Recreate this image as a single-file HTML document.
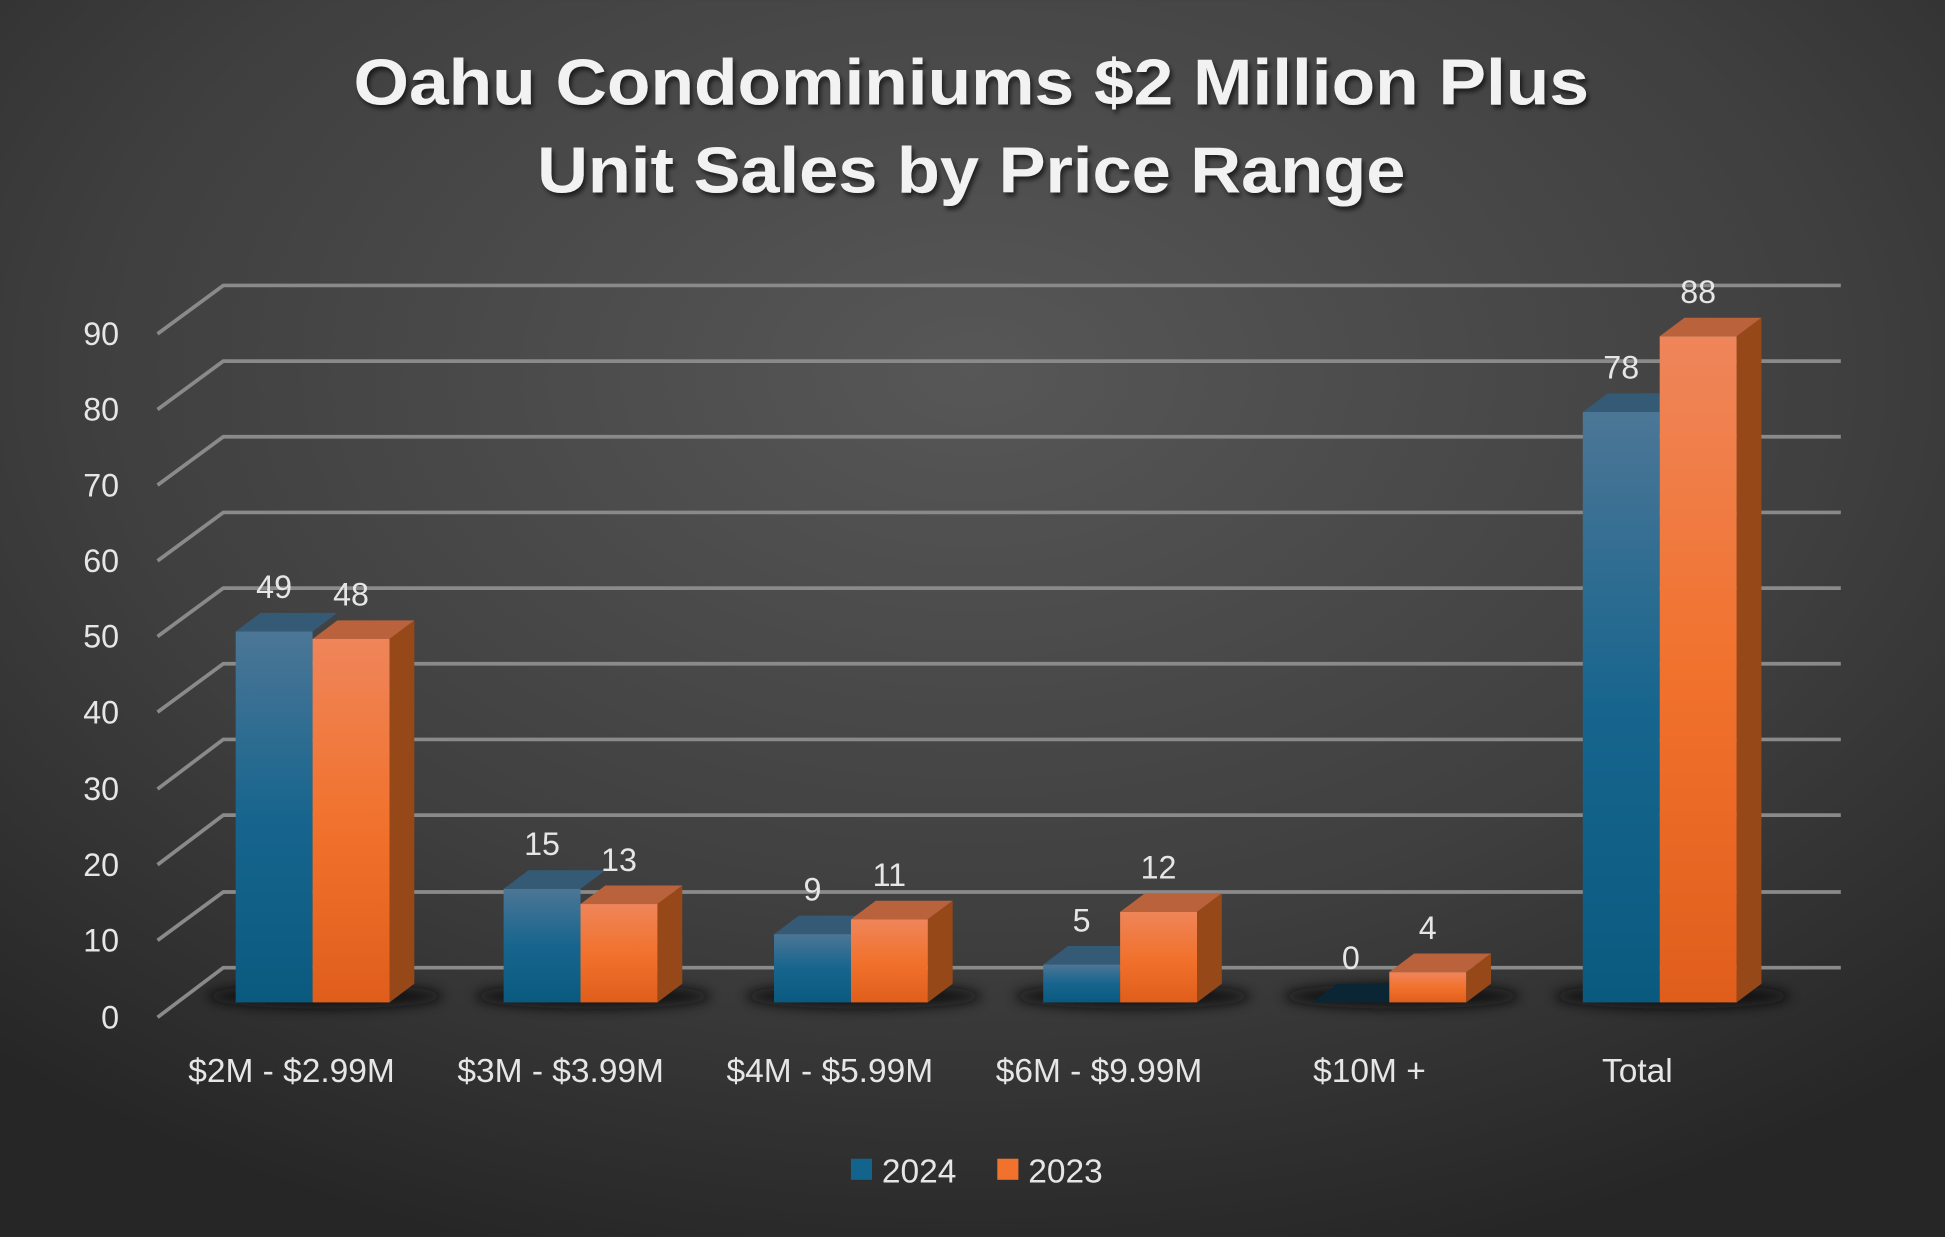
<!DOCTYPE html>
<html><head><meta charset="utf-8"><style>
html,body{margin:0;padding:0;background:#3a3a3a;}
svg{display:block;}
</style></head><body>
<svg width="1945" height="1237" viewBox="0 0 1568 997" xmlns="http://www.w3.org/2000/svg" font-family="Liberation Sans, sans-serif">
<defs>
<radialGradient id="bg" cx="0.5" cy="0.3" r="0.75">
<stop offset="0" stop-color="#575757"/><stop offset="0.6" stop-color="#3f3f3f"/><stop offset="1" stop-color="#262626"/>
</radialGradient>
<linearGradient id="bl" x1="0" y1="0" x2="0" y2="1"><stop offset="0" stop-color="#4c7696"/><stop offset="0.5" stop-color="#17658e"/><stop offset="1" stop-color="#0a5a80"/></linearGradient>
<linearGradient id="or" x1="0" y1="0" x2="0" y2="1"><stop offset="0" stop-color="#ef855a"/><stop offset="0.5" stop-color="#f1722d"/><stop offset="1" stop-color="#e05e1b"/></linearGradient>
<filter id="sh" x="-30%" y="-200%" width="160%" height="500%"><feGaussianBlur stdDeviation="5"/></filter>
<filter id="ts"><feDropShadow dx="2" dy="3" stdDeviation="2" flood-color="#000" flood-opacity="0.6"/></filter>
</defs>
<rect width="1568" height="997" fill="url(#bg)"/>
<g filter="url(#ts)" fill="#f2f2f2" font-weight="bold" font-size="52" text-anchor="middle">
<text x="783" y="84" textLength="996" lengthAdjust="spacingAndGlyphs">Oahu Condominiums $2 Million Plus</text>
<text x="783" y="155" textLength="700" lengthAdjust="spacingAndGlyphs">Unit Sales by Price Range</text>
</g>
<g stroke="#8a8a8a" stroke-width="3" fill="none">
<path d="M127 269L180 230H1484M127 330L180 291H1484M127 391L180 352H1484M127 452L180 413H1484M127 513L180 474H1484M127 574L180 535H1484M127 636L180 596H1484M127 697L180 657H1484M127 758L180 719H1484M127 820L180 780H1484"/>
</g>
<g fill="#e6e6e6" font-size="26" text-anchor="end">
<text x="96" y="278">90</text><text x="96" y="339">80</text><text x="96" y="400">70</text><text x="96" y="461">60</text><text x="96" y="522">50</text><text x="96" y="583">40</text><text x="96" y="645">30</text><text x="96" y="706">20</text><text x="96" y="767">10</text><text x="96" y="829">0</text>
</g>
<g fill="#111" opacity="0.85" filter="url(#sh)">
<ellipse cx="262" cy="803" rx="95" ry="10"/>
<ellipse cx="478" cy="803" rx="95" ry="10"/>
<ellipse cx="696" cy="803" rx="95" ry="10"/>
<ellipse cx="913" cy="803" rx="95" ry="10"/>
<ellipse cx="1130" cy="803" rx="95" ry="10"/>
<ellipse cx="1348" cy="803" rx="95" ry="10"/>
</g>
<!-- G1 -->
<polygon points="190,509 210,494 272,494 252,509" fill="#355a75"/>
<rect x="190" y="509" width="62" height="299" fill="url(#bl)"/>
<polygon points="314,515 334,500 334,793 314,808" fill="#974819"/>
<polygon points="252,515 272,500 334,500 314,515" fill="#b9623b"/>
<rect x="252" y="515" width="62" height="293" fill="url(#or)"/>
<!-- G2 -->
<polygon points="406,716.5 426,701.5 488,701.5 468,716.5" fill="#355a75"/>
<rect x="406" y="716.5" width="62" height="91.5" fill="url(#bl)"/>
<polygon points="530,728.7 550,713.7 550,793 530,808" fill="#974819"/>
<polygon points="468,728.7 488,713.7 550,713.7 530,728.7" fill="#b9623b"/>
<rect x="468" y="728.7" width="62" height="79.3" fill="url(#or)"/>
<!-- G3 -->
<polygon points="624,753 644,738 706,738 686,753" fill="#355a75"/>
<rect x="624" y="753" width="62" height="55" fill="url(#bl)"/>
<polygon points="748,741 768,726 768,793 748,808" fill="#974819"/>
<polygon points="686,741 706,726 768,726 748,741" fill="#b9623b"/>
<rect x="686" y="741" width="62" height="67" fill="url(#or)"/>
<!-- G4 -->
<polygon points="841,777.5 861,762.5 923,762.5 903,777.5" fill="#355a75"/>
<rect x="841" y="777.5" width="62" height="30.5" fill="url(#bl)"/>
<polygon points="965,735 985,720 985,793 965,808" fill="#974819"/>
<polygon points="903,735 923,720 985,720 965,735" fill="#b9623b"/>
<rect x="903" y="735" width="62" height="73" fill="url(#or)"/>
<!-- G5 -->
<polygon points="1058,808 1078,793 1140,793 1120,808" fill="#0a2635"/>
<polygon points="1182,783.6 1202,768.6 1202,793 1182,808" fill="#974819"/>
<polygon points="1120,783.6 1140,768.6 1202,768.6 1182,783.6" fill="#b9623b"/>
<rect x="1120" y="783.6" width="62" height="24.4" fill="url(#or)"/>
<!-- G6 -->
<polygon points="1276,332 1296,317 1358,317 1338,332" fill="#355a75"/>
<rect x="1276" y="332" width="62" height="476" fill="url(#bl)"/>
<polygon points="1400,271 1420,256 1420,793 1400,808" fill="#974819"/>
<polygon points="1338,271 1358,256 1420,256 1400,271" fill="#b9623b"/>
<rect x="1338" y="271" width="62" height="537" fill="url(#or)"/>
<g fill="#e6e6e6" font-size="26" text-anchor="middle">
<text x="221" y="482">49</text><text x="283" y="488">48</text>
<text x="437" y="689">15</text><text x="499" y="702">13</text>
<text x="655" y="726">9</text><text x="717" y="714">11</text>
<text x="872" y="751">5</text><text x="934" y="708">12</text>
<text x="1089" y="781">0</text><text x="1151" y="757">4</text>
<text x="1307" y="305">78</text><text x="1369" y="244">88</text>
</g>
<g fill="#e6e6e6" font-size="27" text-anchor="middle">
<text x="235" y="872">$2M - $2.99M</text><text x="452" y="872">$3M  - $3.99M</text><text x="669" y="872">$4M - $5.99M</text><text x="886" y="872">$6M - $9.99M</text><text x="1104" y="872">$10M +</text><text x="1320" y="872">Total</text>
</g>
<rect x="686" y="934" width="17" height="17" fill="#13648c"/>
<text x="711" y="953" fill="#e6e6e6" font-size="27">2024</text>
<rect x="804" y="934" width="17" height="17" fill="#f1722d"/>
<text x="829" y="953" fill="#e6e6e6" font-size="27">2023</text>
</svg>
</body></html>
